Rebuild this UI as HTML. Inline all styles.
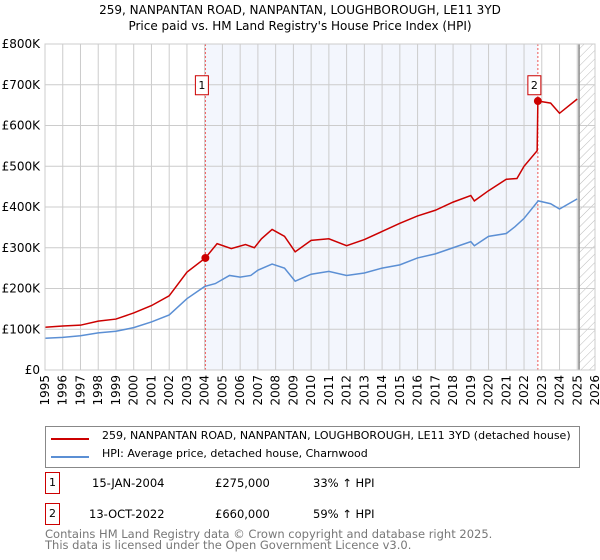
<!DOCTYPE html>
<html><head><meta charset="utf-8"><style>
body{margin:0;background:#fff;font-family:"DejaVu Sans","Liberation Sans",sans-serif;}
#wrap{position:relative;width:600px;height:560px;overflow:hidden;}
.t{position:absolute;font-size:11.5px;color:#000;white-space:nowrap;}
</style></head><body>
<div id="wrap">
<svg id="svg" width="600" height="420" style="position:absolute;left:0;top:0">
<defs><pattern id="hatch" width="6" height="6" patternUnits="userSpaceOnUse" patternTransform="rotate(45)"><line x1="0" y1="0" x2="0" y2="6" stroke="#bbb" stroke-width="1"/></pattern></defs>
<text x="300" y="14" text-anchor="middle" font-size="12">259, NANPANTAN ROAD, NANPANTAN, LOUGHBOROUGH, LE11 3YD</text>
<text x="300" y="30" text-anchor="middle" font-size="12">Price paid vs. HM Land Registry's House Price Index (HPI)</text>
<g id="g"></g>
</svg>
<div style="position:absolute;left:45px;top:426px;width:533px;height:40px;border:1px solid #888;">
<div style="position:absolute;left:5px;top:11px;width:38px;height:2px;background:#cc0000"></div>
<div class="t" style="left:56px;top:2px;font-size:11px">259, NANPANTAN ROAD, NANPANTAN, LOUGHBOROUGH, LE11 3YD (detached house)</div>
<div style="position:absolute;left:5px;top:29px;width:38px;height:2px;background:#5b8fd4"></div>
<div class="t" style="left:56px;top:20px;font-size:11px">HPI: Average price, detached house, Charnwood</div>
</div>
<div style="position:absolute;left:45px;top:472px;width:13px;height:20px;border:1px solid #cc0000;font-size:11px;text-align:center;line-height:20px">1</div>
<div class="t" style="left:92px;top:476px">15-JAN-2004</div>
<div class="t" style="left:215px;top:476px">£275,000</div>
<div class="t" style="left:313px;top:476px">33% ↑ HPI</div>
<div style="position:absolute;left:45px;top:503px;width:13px;height:20px;border:1px solid #cc0000;font-size:11px;text-align:center;line-height:20px">2</div>
<div class="t" style="left:89px;top:507px">13-OCT-2022</div>
<div class="t" style="left:215px;top:507px">£660,000</div>
<div class="t" style="left:313px;top:507px">59% ↑ HPI</div>
<div class="t" style="left:45px;top:529px;color:#777;font-size:11.5px;line-height:11px">Contains HM Land Registry data © Crown copyright and database right 2025.<br>This data is licensed under the Open Government Licence v3.0.</div>
</div>
<script>
const yTicks=[0,100000,200000,300000,400000,500000,600000,700000,800000];
const yTickLabels=["£0","£100K","£200K","£300K","£400K","£500K","£600K","£700K","£800K"];
const xYears=[1995,1996,1997,1998,1999,2000,2001,2002,2003,2004,2005,2006,2007,2008,2009,2010,2011,2012,2013,2014,2015,2016,2017,2018,2019,2020,2021,2022,2023,2024,2025,2026];
const hpiT=[1995,1996,1997,1998,1999,2000,2001,2002,2003,2004,2004.6,2005.4,2006,2006.6,2007,2007.8,2008.5,2009.1,2010,2011,2012,2013,2014,2015,2016,2017,2018,2019,2019.2,2020,2021,2021.5,2022,2022.8,2023.5,2024,2025];
const hpiV=[78000,80000,84000,91000,95000,104000,118000,135000,175000,205000,212000,232000,228000,232000,245000,260000,250000,218000,235000,242000,232000,238000,250000,258000,275000,285000,300000,315000,305000,328000,335000,352000,372000,415000,408000,395000,420000];
const saleT=[2004.04,2022.78];
const saleV=[275000,660000];
const propT=[1995,1996,1997,1998,1999,2000,2001,2002,2003,2004.04,2004.7,2005.5,2006.3,2006.8,2007.2,2007.8,2008.5,2009.1,2010,2011,2012,2013,2014,2015,2016,2017,2018,2019,2019.2,2020,2021,2021.6,2022,2022.74,2022.78,2023.5,2024,2025];
const propV=[105000,108000,110000,120000,125000,140000,158000,182000,240000,275000,310000,298000,308000,300000,322000,345000,328000,290000,318000,322000,305000,320000,340000,360000,378000,392000,412000,428000,415000,440000,468000,470000,500000,538000,660000,655000,630000,665000];
const X0=45,X1=595,Y0=370,Y1=44;
const xs=t=>X0+(t-1995)/(2026-1995)*(X1-X0);
const ys=v=>Y0-v/800000*(Y0-Y1);
const g=document.getElementById('g');const NS='http://www.w3.org/2000/svg';
function mk(tag,a){const e=document.createElementNS(NS,tag);for(const k in a)e.setAttribute(k,a[k]);g.appendChild(e);return e;}
let e=mk('rect',{x:xs(saleT[0]),y:Y1,width:xs(saleT[1])-xs(saleT[0]),height:Y0-Y1,fill:'#f3f6fd'});

e=mk('rect',{x:xs(2025.1),y:Y1,width:X1-xs(2025.1),height:Y0-Y1,fill:'url(#hatch)'});

yTicks.forEach((v,i)=>{let l=mk('line',{x1:X0,x2:X1,y1:ys(v),y2:ys(v),stroke:'#ccc'});

let t=mk('text',{x:40,y:ys(v)+4,'text-anchor':'end','font-size':12});t.textContent=yTickLabels[i];
});
xYears.forEach(y=>{let l=mk('line',{x1:xs(y),x2:xs(y),y1:Y1,y2:Y0,stroke:'#ccc'});

let t=mk('text',{x:0,y:0,'text-anchor':'end','font-size':12,transform:`translate(${xs(y)+4},${Y0+5}) rotate(-90)`});t.textContent=y;
});
e=mk('line',{x1:xs(2025.1),x2:xs(2025.1),y1:Y1,y2:Y0,stroke:'#888','stroke-width':1.5});

saleT.forEach((t,i)=>{let l=mk('line',{x1:xs(t),x2:xs(t),y1:Y1,y2:Y0,stroke:'#e55','stroke-dasharray':'2,2'});
});
e=mk('polyline',{points:hpiT.map((t,i)=>xs(t)+','+ys(hpiV[i])).join(' '),fill:'none',stroke:'#5b8fd4','stroke-width':1.5});

e=mk('polyline',{points:propT.map((t,i)=>xs(t)+','+ys(propV[i])).join(' '),fill:'none',stroke:'#cc0000','stroke-width':1.5});

saleT.forEach((t,i)=>{let c=mk('circle',{cx:xs(t),cy:ys(saleV[i]),r:4,fill:'#cc0000'});

let r=mk('rect',{x:xs(t)-10,y:ys(700000)-9,width:13,height:19,fill:'#fff',stroke:'#cc0000'});

let tx=mk('text',{x:xs(t)-3.5,y:ys(700000)+4,'text-anchor':'middle','font-size':11});tx.textContent=i+1;
});
e=mk('rect',{x:X0,y:Y1,width:X1-X0,height:Y0-Y1,fill:'none',stroke:'#ccc'});

</script>
</body></html>
